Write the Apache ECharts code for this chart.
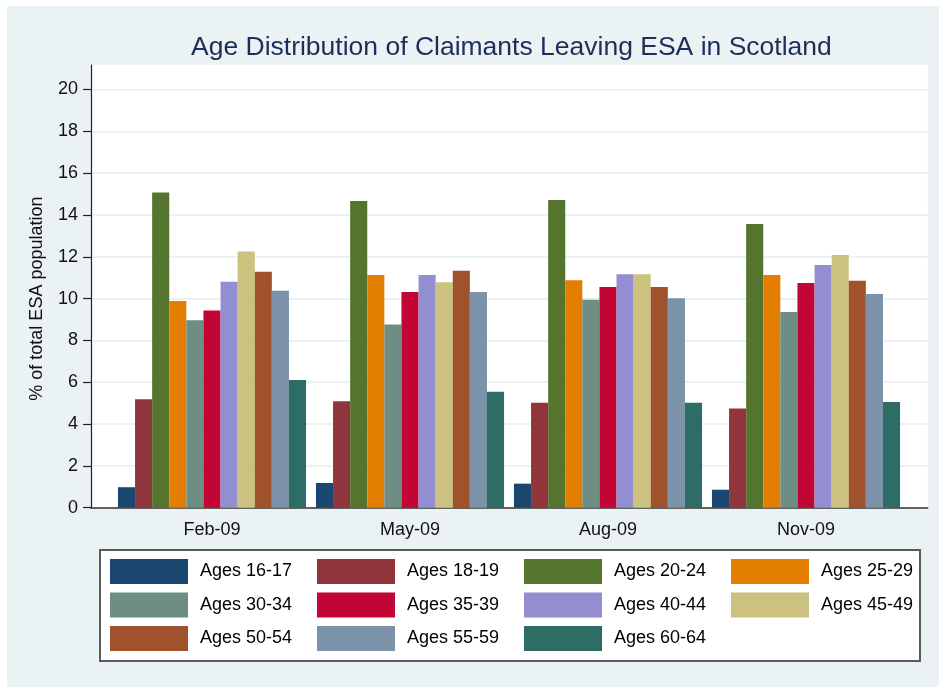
<!DOCTYPE html>
<html>
<head>
<meta charset="utf-8">
<script src="https://cdn.jsdelivr.net/npm/echarts@6/dist/echarts.min.js"></script>
<style>
  html, body { margin: 0; padding: 0; background: #ffffff; }
  #bg { position: absolute; left: 7px; top: 6px; width: 932px; height: 681px; background: #eaf2f3; }
  #chart { position: absolute; left: 0; top: 0; width: 939px; height: 687px; }
</style>
</head>
<body>
<div id="bg"></div>
<div id="chart"></div>
<script>
// ---- data ----
var categories = ['Feb-09', 'May-09', 'Aug-09', 'Nov-09'];
var ageGroups = ['Ages 16-17', 'Ages 18-19', 'Ages 20-24', 'Ages 25-29', 'Ages 30-34', 'Ages 35-39',
                 'Ages 40-44', 'Ages 45-49', 'Ages 50-54', 'Ages 55-59', 'Ages 60-64'];
var feb09 = [0.98, 5.19, 15.07, 9.89, 8.97, 9.43, 10.81, 12.25, 11.29, 10.37, 6.11];
var may09 = [1.18, 5.09, 14.67, 11.13, 8.76, 10.31, 11.13, 10.78, 11.33, 10.31, 5.55];
var aug09 = [1.15, 5.02, 14.72, 10.88, 9.94, 10.55, 11.17, 11.17, 10.55, 10.02, 5.02];
var nov09 = [0.86, 4.74, 13.57, 11.13, 9.36, 10.75, 11.61, 12.08, 10.85, 10.22, 5.06];
var yTicks = [0, 2, 4, 6, 8, 10, 12, 14, 16, 18, 20];
var colors = ['#1a476f', '#90353b', '#55752f', '#e37e00', '#6e8e84', '#c10534',
              '#938dd2', '#cac27e', '#a0522d', '#7b92a8', '#2d6d66'];

var months = [feb09, may09, aug09, nov09];
var FONT = '"Liberation Sans", Arial, sans-serif';

var series = ageGroups.map(function (name, i) {
  return {
    name: name,
    type: 'bar',
    xAxisIndex: 2,
    yAxisIndex: 2,
    barGap: '0%',
    barCategoryGap: '5%',
    itemStyle: { color: colors[i] },
    emphasis: { disabled: true },
    animation: false,
    data: months.map(function (m) { return m[i]; })
  };
});

// legend columns (4 columns, filled row by row)
var legends = [];
for (var c = 0; c < 4; c++) {
  var d = [];
  for (var r = 0; r < 3; r++) {
    var k = r * 4 + c;
    if (k < ageGroups.length) d.push(ageGroups[k]);
  }
  legends.push({
    data: d,
    orient: 'vertical',
    left: 110 + c * 207,
    top: 559,
    itemWidth: 78,
    itemHeight: 25,
    itemGap: 8.5,
    icon: 'rect',
    selectedMode: false,
    padding: 0,
    textStyle: { fontFamily: FONT, fontSize: 18, color: '#000', padding: [0, 0, 0, 7] }
  });
}

var chart = echarts.init(document.getElementById('chart'), null, { renderer: 'canvas' });
chart.setOption({
  animation: false,
  backgroundColor: 'transparent',
  title: {
    text: 'Age Distribution of Claimants Leaving ESA in Scotland',
    left: 186,
    top: 29,
    textStyle: { fontFamily: FONT, fontSize: 26.5, fontWeight: 'normal', color: '#1e2d5a' }
  },
  legend: legends,
  graphic: [{
    type: 'rect',
    z: 1,
    shape: { x: 100, y: 550, width: 820, height: 111 },
    style: { fill: '#ffffff', stroke: '#5a5a5a', lineWidth: 2 }
  }],
  grid: [
    { left: 91, right: 11.3, top: 65, bottom: 179.3, show: true, backgroundColor: '#ffffff', borderWidth: 0 },
    { left: 91, right: 11.3, top: 89.5, bottom: 179.3 },
    { left: 113, width: 792, top: 89.5, bottom: 179.3 }
  ],
  xAxis: [
    { gridIndex: 0, type: 'value', show: false },
    { gridIndex: 1, type: 'value', min: 0, max: 1,
      axisLine: { show: true, onZero: false, lineStyle: { color: '#333', width: 1.5 } },
      axisTick: { show: false }, axisLabel: { show: false }, splitLine: { show: false } },
    { gridIndex: 2, type: 'category', data: categories,
      axisLine: { show: false }, axisTick: { show: false }, splitLine: { show: false },
      axisLabel: { margin: 13, fontFamily: FONT, fontSize: 18, color: '#111' } }
  ],
  yAxis: [
    { gridIndex: 0, type: 'value', min: 0, max: 1,
      axisLine: { show: true, lineStyle: { color: '#222', width: 1.2 } },
      axisTick: { show: false }, axisLabel: { show: false }, splitLine: { show: false } },
    { gridIndex: 1, type: 'value', min: yTicks[0], max: yTicks[yTicks.length - 1], interval: 2,
      name: '% of total ESA population',
      nameLocation: 'middle',
      nameGap: 45,
      nameTextStyle: { fontFamily: FONT, fontSize: 18, color: '#111' },
      axisLine: { show: false },
      axisTick: { show: true, length: 8, lineStyle: { color: '#222', width: 1.2 } },
      axisLabel: { margin: 13, fontFamily: FONT, fontSize: 18, color: '#111' },
      splitLine: { show: true, lineStyle: { color: '#eaf2f3', width: 2 } } },
    { gridIndex: 2, type: 'value', min: yTicks[0], max: yTicks[yTicks.length - 1], show: false,
      splitLine: { show: false } }
  ],
  series: series
});
</script>
</body>
</html>
